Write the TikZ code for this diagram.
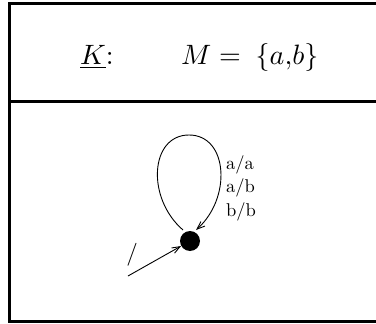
\documentclass[tikz,border=0pt]{standalone}
\usetikzlibrary{arrows.meta}
\begin{document}
\begin{tikzpicture}[x=1pt,y=1pt,
  frame/.style={line width=3pt},
  big/.style={inner sep=0pt, anchor=base west},
  lab/.style={inner sep=0pt, anchor=base west},
  state/.style={circle, fill=black, minimum size=20pt, inner sep=0pt},
  arr/.style={-{Straight Barb[length=8pt,width=6pt]}, line width=0.9pt}]
\useasboundingbox (0,0) rectangle (376,-324);
\draw[frame] (390,-4) -- (9.5,-4) -- (9.5,-321) -- (390,-321);
\draw[frame] (9.5,-101) -- (390,-101);
\node[big] (k) at (80,-64) {\scalebox{2.8}{\underline{$K$}:}};
\node[big] (m) at (181,-64) {\scalebox{2.8}{$M =\hspace{2.5pt}\{a{,}b\}$}};
\node[state] (s) at (190,-241) {};
\coordinate (st) at (183,-230);
\coordinate (en) at (196,-230);
\draw[arr] (st) .. controls (146,-198) and (150,-135) .. (189,-135)
  .. controls (228,-135) and (232,-198) .. (en);
\node[lab] (l1) at (226,-170) {\scalebox{1.85}{a/a}};
\node[lab] (l2) at (226,-193) {\scalebox{1.85}{a/b}};
\node[lab] (l3) at (226,-216) {\scalebox{1.85}{b/b}};
\coordinate (init) at (128,-276);
\draw[arr] (init) -- (s);
\node[lab, anchor=center] (sl) at (132,-254.5) {\scalebox{2.3}{/}};
\end{tikzpicture}
\end{document}
